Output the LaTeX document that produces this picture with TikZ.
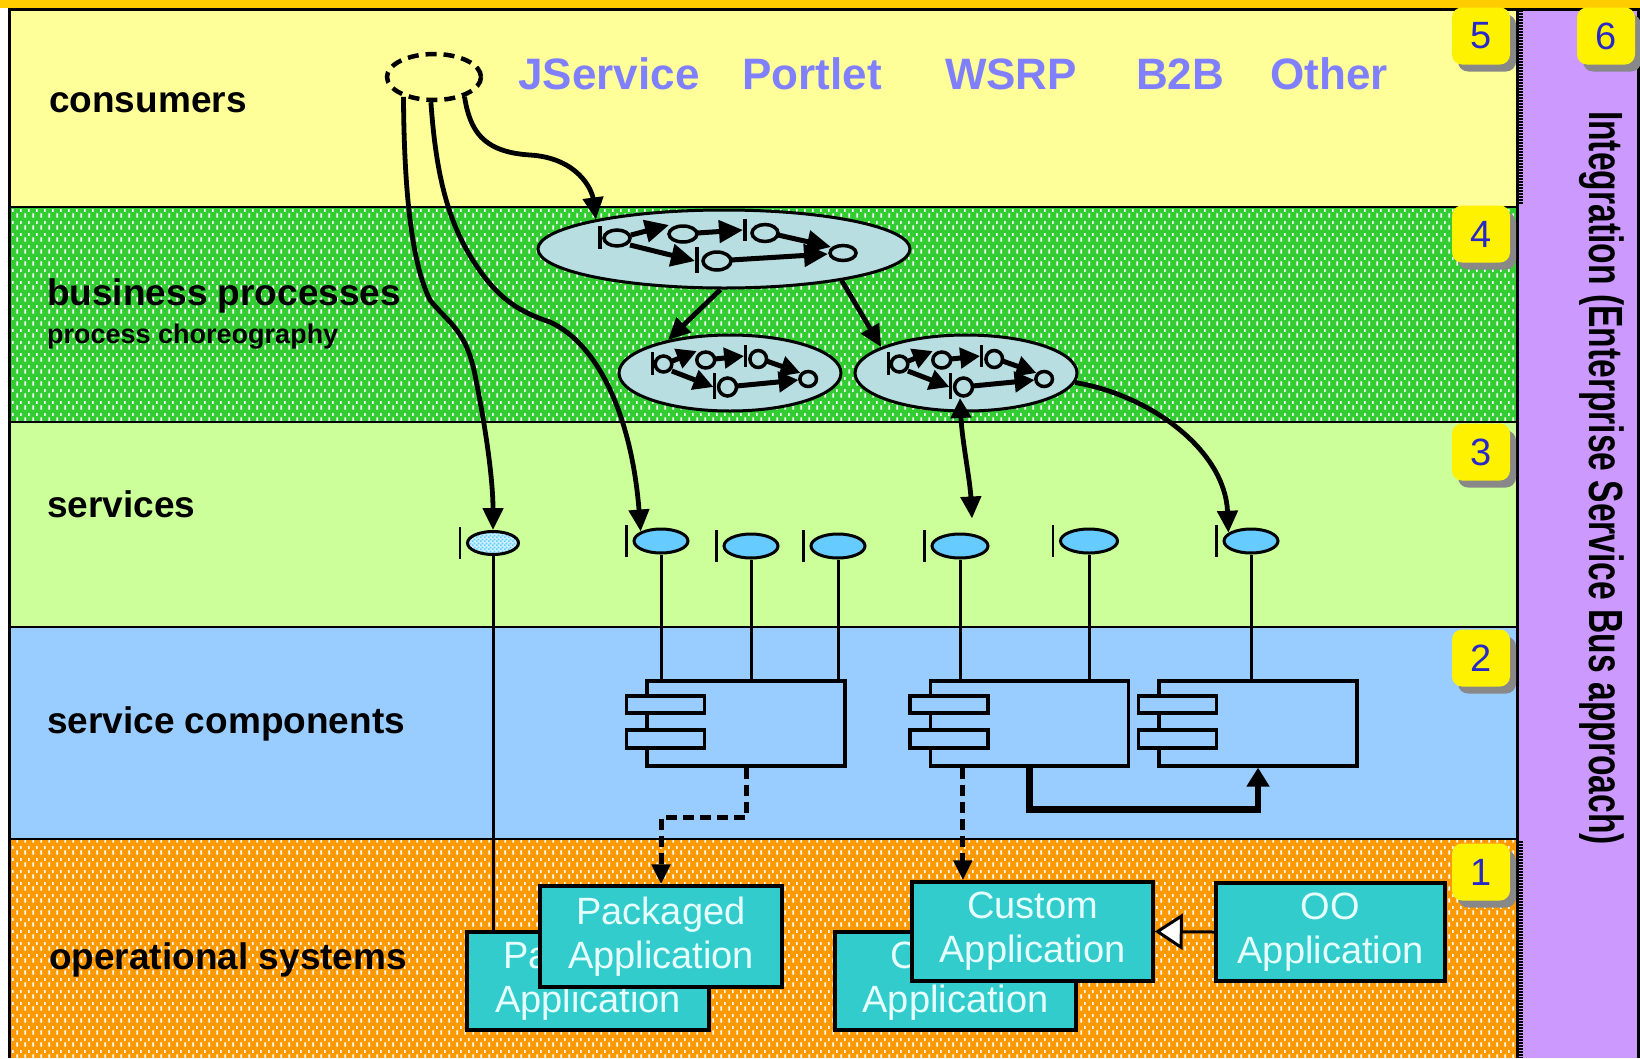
\documentclass[tikz,border=0pt]{standalone}
\usepackage{fontspec}
\usepackage{graphicx}
\setmainfont{Liberation Sans}
\usetikzlibrary{arrows.meta,shapes.geometric,shadows,patterns.meta,calc}

\definecolor{goldtop}{HTML}{FFCC00}
\definecolor{consumerbg}{HTML}{FFFF99}
\definecolor{bizgreen}{HTML}{33CC33}
\definecolor{svcgreen}{HTML}{CCFF99}
\definecolor{compblue}{HTML}{99CCFF}
\definecolor{opsorange}{HTML}{FF9900}
\definecolor{esbpurple}{HTML}{CC99FF}
\definecolor{procfill}{HTML}{B9DEE2}
\definecolor{pinfill}{HTML}{66CCFF}
\definecolor{pinlight}{HTML}{CCF2FF}
\definecolor{appfill}{HTML}{33CCCC}
\definecolor{apptext}{HTML}{E6FFFF}
\definecolor{chanblue}{HTML}{8080FF}
\definecolor{numblue}{HTML}{2828C8}
\definecolor{shadowgrey}{HTML}{888888}

% speckled texture used on the business and operational layers
\tikzdeclarepattern{
  name=specks,
  type=uncolored,
  bottom left={(0pt,0pt)},
  top right={(8pt,12pt)},
  tile size={(8pt,12pt)},
  code={
    \fill (0.5pt,0.5pt) rectangle (2.3pt,5pt);
    \fill (4.5pt,6.5pt) rectangle (6.3pt,9.5pt);
  }
}
% small checks for the highlighted service
\tikzdeclarepattern{
  name=checks,
  type=uncolored,
  bottom left={(0pt,0pt)},
  top right={(4pt,4pt)},
  tile size={(4pt,4pt)},
  code={
    \fill (0pt,0pt) rectangle (2pt,2pt);
    \fill (2pt,2pt) rectangle (4pt,4pt);
  }
}

\begin{document}
\begin{tikzpicture}[x=1pt,y=-1pt,
  sep/.style={line width=2.8pt},
  layerlabel/.style={anchor=base west, inner sep=0pt, font=\bfseries\fontsize{37}{37}\selectfont},
  chanlabel/.style={anchor=base, inner sep=0pt, text=chanblue, font=\bfseries\fontsize{44}{44}\selectfont},
  badge/.style={fill=yellow, rounded corners=10pt, minimum width=58pt, minimum height=57pt,
    inner sep=0pt, text=numblue, font=\fontsize{38}{38}\selectfont,
    drop shadow={shadow xshift=6pt, shadow yshift=-7pt, fill=shadowgrey, opacity=1}},
  procell/.style={ellipse, draw, line width=3pt, fill=procfill, inner sep=0pt},
  svcpin/.style={ellipse, draw, line width=3pt, fill=pinfill, minimum width=54pt, minimum height=24pt, inner sep=0pt},
  pinwire/.style={line width=3pt},
  compbox/.style={draw, line width=3.2pt, fill=compblue, minimum width=198pt, minimum height=85pt, inner sep=0pt},
  comptab/.style={draw, line width=3.2pt, fill=compblue},
  appbox/.style={draw, line width=3.5pt, fill=appfill, text=apptext, align=center, inner sep=0pt,
    font=\fontsize{38}{44}\selectfont},
  connarrow/.style={line width=4.8pt, -{Triangle[length=22pt,width=20pt]}},
  bothways/.style={line width=4.8pt, {Triangle[length=20pt,width=20pt]}-{Triangle[length=22pt,width=20pt]}},
  depend/.style={line width=5pt, dash pattern=on 11pt off 6pt, -{Triangle[length=20pt,width=18pt]}},
  fltip/.style={-{Triangle[length=24pt,width=22pt]}},
  % a tiny process flow: start marker, activities and joins
  pics/bpflow/.style={code={
    \begin{scope}[line width=5pt]
      \draw[fltip] (-93,-14) -- (-55,-24);
      \draw[fltip] (-27,-16) -- (19,-19);
      \draw[fltip] (54,-14) -- (107,-2);
      \draw[fltip] (-94,-4) -- (-29,12);
      \draw[fltip] (7,11) -- (104,5);
    \end{scope}
    \begin{scope}[line width=3.5pt]
      \draw (-124,-23) -- (-124,0);
      \draw (21,-30) -- (21,-8);
      \draw (-27,-2) -- (-27,24);
      \filldraw[fill=procfill] (-107,-11) ellipse [x radius=13, y radius=8];
      \filldraw[fill=procfill] (-41,-15) ellipse [x radius=14, y radius=8];
      \filldraw[fill=procfill] (41,-16) ellipse [x radius=13, y radius=8.5];
      \filldraw[fill=procfill] (119,4) ellipse [x radius=13, y radius=7.5];
      \filldraw[fill=procfill] (-7,12) ellipse [x radius=14, y radius=9];
    \end{scope}
  }}
]
\useasboundingbox (0,0) rectangle (1640,1058);

% ---- backgrounds -------------------------------------------------------
\fill[white] (0,0) rectangle (1640,1058);
\fill[goldtop] (0,0) rectangle (1640,8);
\fill[consumerbg] (8,8) rectangle (1517,207);
\fill[bizgreen] (8,207) rectangle (1517,422);
\fill[pattern=specks, pattern color=white] (8,207) rectangle (1517,422);
\fill[svcgreen] (8,422) rectangle (1517,627);
\fill[compblue] (8,627) rectangle (1517,839);
\fill[opsorange] (8,839) rectangle (1517,1058);
\fill[pattern=specks, pattern color=white] (8,839) rectangle (1517,1058);
\fill[esbpurple] (1517,8) rectangle (1640,1058);

% layer borders
\draw[sep] (8,9.5) -- (1640,9.5);
\draw[line width=3pt] (9.5,8) -- (9.5,1058);
\draw[sep] (8,207) -- (1517,207);
\draw[sep] (8,422) -- (1517,422);
\draw[sep] (8,627) -- (1517,627);
\draw[sep] (8,839) -- (1517,839);
\draw[line width=3pt] (1517,8) -- (1517,1058);
\draw[line width=2.5pt] (1638.5,8) -- (1638.5,1058);
\draw[line width=4pt, dash pattern=on 1.5pt off 1.5pt] (1520.5,10) -- (1520.5,205);
\draw[line width=4pt, dash pattern=on 1.5pt off 1.5pt] (1520.5,841) -- (1520.5,1058);

% ---- layer names ---------------------------------------------------------
\node[layerlabel] (lcons) at (49,112) {consumers};
\node[layerlabel] (lbiz) at (47,305) {business processes};
\node[anchor=base west, inner sep=0pt, font=\bfseries\fontsize{27}{27}\selectfont] (lchor) at (47,343) {process choreography};
\node[layerlabel] (lsvc) at (47,517) {services};
\node[layerlabel] (lcomp) at (47,733) {service components};
\node[layerlabel] (lops) at (49,969) {operational systems};

% ---- consumer channels ---------------------------------------------------
\node[chanlabel] (chj) at (609,89) {JService};
\node[chanlabel] (chp) at (812,89) {Portlet};
\node[chanlabel] (chw) at (1011,89) {WSRP};
\node[chanlabel] (chb) at (1180,89) {B2B};
\node[chanlabel] (cho) at (1329,89) {Other};

\node[ellipse, draw, line width=4.5pt, dash pattern=on 11pt off 7pt, minimum width=94pt,
  minimum height=46pt, inner sep=0pt] (cons) at (434,77) {};

% ---- business processes --------------------------------------------------
\node[procell, minimum width=372pt, minimum height=78pt] (p1) at (724,249) {};
\node[procell, minimum width=222pt, minimum height=76pt] (p2) at (730,373) {};
\node[procell, minimum width=222pt, minimum height=76pt] (p3) at (966,373) {};
\pic at (724,249) {bpflow};
\pic[xscale=0.64, fltip/.style={-{Triangle[length=20pt,width=20pt]}}] at (732,375) {bpflow};
\pic[xscale=0.64, fltip/.style={-{Triangle[length=20pt,width=20pt]}}] at (968,375) {bpflow};

% ---- services ------------------------------------------------------------
\node[svcpin, draw, preaction={fill=pinlight}, fill=none, pattern=checks, pattern color=pinfill,
  minimum width=51pt, minimum height=23pt] (s1) at (493,543) {};
\node[svcpin] (s2) at (661,541) {};
\node[svcpin] (s3) at (751,546) {};
\node[svcpin] (s4) at (838,546) {};
\node[svcpin, minimum width=56pt] (s5) at (960,546) {};
\node[svcpin, minimum width=57pt] (s6) at (1089,541) {};
\node[svcpin] (s7) at (1251,541) {};
\foreach \s in {s1,s2,s3,s4,s5,s6,s7} {
  \draw[line width=2.8pt] ($(\s.west)+(-6,-16)$) -- ($(\s.west)+(-6,16)$);
}

% ---- service components --------------------------------------------------
\node[compbox] (c1) at (746,723.5) {};
\node[compbox] (c2) at (1029.5,723.5) {};
\node[compbox] (c3) at (1258,723.5) {};
\foreach \c in {c1,c2,c3} {
  \draw[comptab] ($(\c.west)+(-19,-27.5)$) rectangle ($(\c.west)+(59,-10.5)$);
  \draw[comptab] ($(\c.west)+(-19,6.5)$) rectangle ($(\c.west)+(59,24.5)$);
}

% ---- operational systems -------------------------------------------------
\node[appbox, minimum width=242pt, minimum height=98pt] (pab) at (588,981) {Packaged\\Application};
\node[appbox, minimum width=242pt, minimum height=101pt] (paf) at (661,936.5) {Packaged\\Application};
\node[appbox, minimum width=241pt, minimum height=98pt] (cab) at (955.5,981) {Custom\\Application};
\node[appbox, minimum width=241pt, minimum height=99pt] (caf) at (1032.5,931.5) {Custom\\Application};
\node[appbox, minimum width=229pt, minimum height=98pt] (oo) at (1330.5,932) {OO\\Application};

% ---- wires from services down to their implementations -------------------
\draw[pinwire] (s1.south) -- (s1.south |- pab.north);
\draw[pinwire] (s2.south) -- (s2.south |- c1.north);
\draw[pinwire] (s3.south) -- (s3.south |- c1.north);
\draw[pinwire] (s4.south) -- (s4.south |- c1.north);
\draw[pinwire] (s5.south) -- (s5.south |- c2.north);
\draw[pinwire] (s6.south) -- (s6.south |- c2.north);
\draw[pinwire] (s7.south) -- (s7.south |- c3.north);

% ---- connectors ----------------------------------------------------------
\draw[connarrow] (cons.-147) .. controls (404,180) and (410,260) .. (430,300)
  .. controls (450,325) and (467,330) .. (476,380)
  .. controls (486,430) and (493,480) .. (s1.north);
\draw[connarrow] (cons.-97) .. controls (436,175) and (448,225) .. (478,268)
  .. controls (500,300) and (520,312) .. (550,322)
  .. controls (600,345) and (632,420) .. (s2.155);
\draw[connarrow] (cons.-33) .. controls (470,130) and (482,152) .. (530,155)
  .. controls (578,158) and (592,190) .. (p1.167);
\draw[connarrow] (p1.-95) -- (p2.152);
\draw[connarrow] (p1.-15) -- (p3.163);
\draw[bothways] ($(p3.center)+(-6,25)$) .. controls (962,440) and (970,480) .. ($(s5.north)+(12,-14)$);
\draw[connarrow] (p3.-5) .. controls (1150,395) and (1225,450) .. (s7.160);

\draw[line width=6.5pt, -{Triangle[length=19pt,width=22pt]}] (c2.south) -- ++(0,42) -| (c3.south);
\draw[depend] (c1.south) -- ++(0,50) -| (paf.north);
\coordinate (c2drop) at ($(c2.south west)+(34,0)$);
\draw[depend] (c2drop) -- (c2drop |- caf.north);
\draw[line width=3pt, -{Triangle[length=28pt,width=36pt,fill=white]}] (oo.west) -- (caf.east);

% ---- layer numbers and the integration column ----------------------------
\node[badge] (n5) at (1481,36) {5};
\node[badge] (n4) at (1481,234) {4};
\node[badge] (n3) at (1481,452) {3};
\node[badge] (n2) at (1481,658) {2};
\node[badge] (n1) at (1481,872) {1};
\node[badge] (n6) at (1606,36) {6};
\node[rotate=-90, inner sep=0pt, font=\bfseries\fontsize{48}{48}\selectfont] (esb) at (1602,478)
  {\scalebox{0.7}[1]{Integration (Enterprise Service Bus approach)}};
\end{tikzpicture}
\end{document}
